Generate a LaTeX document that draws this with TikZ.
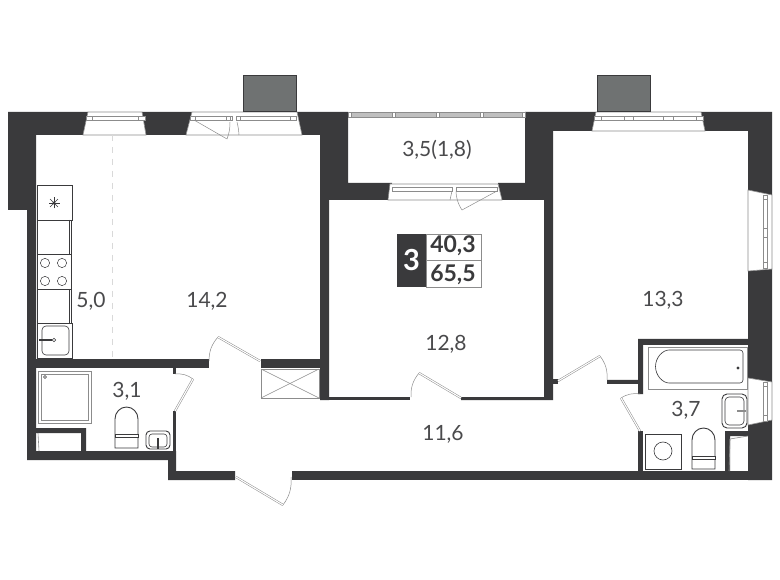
\documentclass[tikz,border=0pt]{standalone}
\usepackage{fontspec}
\setmainfont{Lato}
\usepackage{xcolor}
\usetikzlibrary{positioning,calc}
\definecolor{wallcol}{HTML}{3A3A3C}
\definecolor{textcol}{HTML}{4A4A4C}
\definecolor{linecol}{HTML}{8C8C8C}
\definecolor{glasscol}{HTML}{6F7272}
\begin{document}
\begin{tikzpicture}[x=1pt,y=-1pt]
	\tikzstyle{wall}=[fill=wallcol,draw=none]
	\tikzstyle{fixture}=[draw=wallcol,line width=0.9pt,fill=white]
	\tikzstyle{frame}=[draw=linecol,line width=0.6pt,fill=white]
	\tikzstyle{leaf}=[draw=linecol,line width=0.5pt,double=white,double distance=1.1pt]
	\tikzstyle{swing}=[draw=linecol,line width=0.5pt]
	\tikzstyle{area}=[inner sep=0pt,anchor=base,text=textcol,font=\fontsize{21}{24}\selectfont]
	\tikzstyle{total}=[inner sep=0pt,anchor=base,text=wallcol,font=\fontsize{23}{24}\selectfont\bfseries]
	\useasboundingbox[fill=white] (0,0) rectangle (780,580);

	% walls
	\path[wall] (8,112) -- (88,112) -- (83,135) -- (36,135) -- (36,451) -- (176,451) -- (176,471) -- (235,471) -- (235,480) -- (168,480) -- (168,460) -- (27,460) -- (27,210) -- (8,210) -- cycle;
	\path[wall] (142,112) -- (192,112) -- (186,135) -- (146,135) -- cycle;
	\path[wall] (297,112) -- (348,112) -- (348,183) -- (392,183) -- (390,200) -- (329,200) -- (329,400) -- (320,400) -- (320,135) -- (302,135) -- cycle;
	\path[wall] (498,183) -- (525,183) -- (525,112) -- (596,112) -- (592,131) -- (553,131) -- (553,400) -- (461,400) -- (461,397) -- (544,397) -- (544,200) -- (502,200) -- cycle;
	\path[wall] (329,397) -- (410,397) -- (410,400) -- (329,400) -- cycle;
	\path[wall] (701,112) -- (772,112) -- (772,195) -- (748,190) -- (748,131) -- (705,131) -- cycle;
	\path[wall] (36,359) -- (209,359) -- (209,368) -- (36,368) -- cycle;
	\path[wall] (261,359) -- (320,359) -- (320,368) -- (261,368) -- cycle;
	\path[wall] (173,368) -- (176,368) -- (176,374) -- (173,374) -- cycle;
	\path[wall] (173,411) -- (176,411) -- (176,451) -- (173,451) -- cycle;
	\path[wall] (36,428) -- (86,428) -- (86,451) -- (81,451) -- (81,433) -- (36,433) -- cycle;
	\path[wall] (292,471) -- (772,471) -- (772,480) -- (292,480) -- cycle;
	\path[wall] (553,379) -- (558,379) -- (558,384) -- (553,384) -- cycle;
	\path[wall] (607,380) -- (638,380) -- (638,339) -- (748,339) -- (748,345) -- (643,345) -- (643,394) -- (638,394) -- (638,384) -- (607,384) -- cycle;
	\path[wall] (638,431) -- (643,431) -- (643,471) -- (638,471) -- cycle;
	\path[wall] (748,271) -- (772,269) -- (772,382) -- (748,378) -- cycle;
	\path[wall] (748,425) -- (772,420) -- (772,480) -- (748,480) -- cycle;
	\path[wall] (725,431) -- (748,431) -- (748,436) -- (730,436) -- (730,471) -- (725,471) -- cycle;

	% windows
	\draw[frame] (88,112) -- (142,112) -- (146,135) -- (83,135) -- cycle;
	\draw[frame] (86,116.5) rectangle (145,120);
	\draw[frame] (192,112) -- (297,112) -- (302,135) -- (186,135) -- cycle;
	\draw[frame] (190,116.5) rectangle (232,120);
	\draw[frame] (236,116.5) rectangle (296,120);
	\draw[frame] (596,112) -- (701,112) -- (705,131) -- (592,131) -- cycle;
	\draw[frame] (594,116.5) rectangle (703,120);
	\draw[frame] (390,184) -- (498,184) -- (502,200) -- (388,200) -- cycle;
	\draw[frame] (392,187) rectangle (452,191);
	\draw[frame] (456,187) rectangle (497,191);
	\draw[frame] (748,190) -- (772,195) -- (772,269) -- (748,271) -- cycle;
	\draw[frame] (763,195) rectangle (767,268);
	\draw[frame] (748,378) -- (772,382) -- (772,420) -- (748,425) -- cycle;
	\draw[frame] (763,382) rectangle (767,421);
	\foreach \tx/\tw in {86/6,138/7,190/5,226/4,236/4,290/6,594/7,624/9,663/10,696/7}
		\draw[frame] (\tx,116.5) rectangle ++(\tw,3.5);
	\foreach \ty/\th in {195/4,228/9,262/6,382/4,415/6}
		\draw[frame] (763,\ty) rectangle ++(4,\th);

	% balcony
	\draw[frame,fill=black!25] (348,112.5) rectangle (525,117);
	\foreach \tx in {348,392,436,480,522}
		\draw[frame] (\tx,112.5) rectangle ++(3,4.5);
	\draw[draw=wallcol,line width=1pt,fill=glasscol] (243,75.5) rectangle (296.5,112);
	\draw[draw=wallcol,line width=1pt,fill=glasscol] (597,75.5) rectangle (650.5,112);

	% kitchen
	\draw[draw=black!15,line width=0.8pt,dash pattern=on 6pt off 6pt] (112,135) -- (112,359);
	\draw[fixture] (37,185) rectangle (72,220);
	\foreach \a in {0,45,90,135}
		\draw[wallcol,line width=0.6pt] (54,203) ++(\a:5.5) -- ++(\a+180:11);
	\fill[wallcol] (54,203) circle (1.6);
	\draw[fixture] (37,220) rectangle (71,254);
	\draw[wallcol,line width=0.4pt] (69,220) -- (69,254);
	\draw[fixture] (37,254) rectangle (71,289);
	\foreach \cx in {45,62}
		\foreach \cy in {263,281}
			\draw[wallcol,line width=0.5pt] (\cx,\cy) circle (4.6);
	\draw[fixture] (37,289) rectangle (71,323);
	\draw[wallcol,line width=0.4pt] (69,289) -- (69,323);
	\draw[fixture] (37,323) rectangle (72,358);
	\draw[wallcol,line width=0.6pt,rounded corners=4pt] (42,326) rectangle (69,355);
	\draw[wallcol,line width=1.6pt] (39,340) -- (52,340);
	\draw[fixture,line width=0.5pt] (54,340) circle (1.7);

	% shower, toilet, basin
	\draw[fixture,draw=linecol] (38,371) rectangle (91,423);
	\draw[fixture,draw=linecol] (41,374) rectangle (88,420);
	\draw[wallcol,line width=0.4pt] (45,377) circle (1.5);
	\draw[frame] (38,433) -- (39,451);
	\draw[fixture] (115,448) -- (115,419) arc (180:360:11.5 and 12) -- (138,448) -- cycle;
	\draw[fixture] (115,434.5) rectangle (138,437.5);
	\draw[fixture,rounded corners=4pt] (146,431) rectangle (170,449);
	\draw[wallcol,line width=0.6pt,rounded corners=3pt] (149,434) rectangle (167,447);
	\draw[wallcol,line width=1.4pt] (158,438) -- (158,449);

	% shaft
	\draw[frame,fill=none] (261,369) rectangle (319,398);
	\draw[swing] (261,369) -- (319,398);
	\draw[swing] (261,398) -- (319,369);

	% doors
	\coordinate (kitchendoor) at (209,361);
	\coordinate (kitchenleaf) at (218,337);
	\draw[swing] (kitchendoor) to[bend left=20] (kitchenleaf);
	\draw[leaf] (kitchenleaf) -- (260,361);
	\coordinate (wcdoor) at (175,374);
	\coordinate (wcleaf) at (193,379);
	\draw[swing] (wcdoor) to[bend left=20] (wcleaf);
	\draw[leaf] (wcleaf) -- (175,411);
	\coordinate (entrydoor) at (291,477);
	\coordinate (entryleaf) at (283,505);
	\draw[swing] (entrydoor) to[bend left=20] (entryleaf);
	\draw[leaf] (entryleaf) -- (236,477);
	\coordinate (roomdoor) at (411,397);
	\coordinate (roomleaf) at (419,373);
	\draw[swing] (roomdoor) to[bend left=20] (roomleaf);
	\draw[leaf] (roomleaf) -- (461,398);
	\coordinate (bedroomdoor) at (607,380);
	\coordinate (bedroomleaf) at (600,356);
	\draw[swing] (bedroomdoor) to[bend right=20] (bedroomleaf);
	\draw[leaf] (bedroomleaf) -- (558,381);
	\coordinate (bathdoor) at (640,394);
	\coordinate (bathleaf) at (621,398);
	\draw[swing] (bathdoor) to[bend right=20] (bathleaf);
	\draw[leaf] (bathleaf) -- (640,431);
	\draw[swing] (194,120) -- (227,139);
	\draw[swing] (230,122) to[bend left=10] (227,139);
	\draw[swing] (237,122) to[bend left=5] (239,135);
	\draw[swing] (497,191) -- (462,210);
	\draw[swing] (456,191) to[bend right=15] (462,210);
	\draw[swing] (452,191) -- (450,200);

	% bathroom
	\draw[fixture,draw=linecol] (648,347) rectangle (747,389);
	\draw[wallcol,line width=0.6pt,rounded corners=3pt] (743,350) -- (743,383) -- (672,383) arc (90:270:16.5) -- cycle;
	\fill[wallcol] (738,368) circle (1.7);
	\draw[fixture,rounded corners=5pt] (722,394) rectangle (747,428);
	\draw[wallcol,line width=0.6pt,rounded corners=4pt] (725,397) rectangle (744,425);
	\draw[linecol,line width=1.6pt] (737,411) -- (746,411);
	\draw[fixture] (645,434) rectangle (681,469);
	\draw[wallcol,line width=0.6pt] (663,451) circle (9);
	\draw[fixture] (692,469) -- (692,440) arc (180:360:11.5 and 12) -- (715,469) -- cycle;
	\draw[fixture] (692,456) rectangle (715,459);
	\draw[frame] (730,439) -- (748,436);
	\draw[frame] (730,439) -- (729,471);

	% areas
	\node (balcony)[area] at (437,157) {3,5(1,8)};
	\node (kitchen)[area] at (91,308) {5,0};
	\node (living)[area] at (207,308) {14,2};
	\node (wc)[area] at (127,397) {3,1};
	\node (room)[area] at (446,351) {12,8};
	\node (bedroom)[area] at (663,307) {13,3};
	\node (bath)[area] at (686,417) {3,7};
	\node (hall)[area] at (443,440) {11,6};

	% summary
	\node (badge)[fill=wallcol,minimum width=29pt,minimum height=53pt,inner sep=0pt] at (411.5,260.5) {};
	\node (rooms)[inner sep=0pt,text=white,font=\fontsize{29}{30}\selectfont\bfseries] at (badge.center) {3};
	\node (sumbox)[draw=linecol,line width=0.6pt,minimum width=55pt,minimum height=53pt,inner sep=0pt,right=0pt of badge] {};
	\draw[linecol,line width=0.6pt] (sumbox.west) -- (sumbox.east);
	\node (living total)[total] at (453,253) {40,3};
	\node (full total)[total] at (453,282) {65,5};
\end{tikzpicture}
\end{document}
